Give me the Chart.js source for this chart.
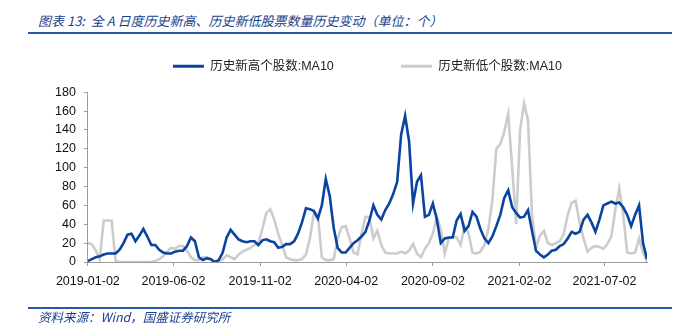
<!DOCTYPE html>
<html>
<head>
<meta charset="utf-8">
<script src="https://cdn.jsdelivr.net/npm/chart.js@4.4.1/dist/chart.umd.min.js"></script>
<style>
  body { margin: 0; background: #fff; }
  #wrap { position: relative; width: 676px; height: 325px; overflow: hidden; }
  #chartBox { position: absolute; left: 0; top: 0; width: 676px; height: 325px; }
  .caption { position: absolute; left: 38px; white-space: nowrap; font-style: italic;
             font-family: 'Noto Sans CJK SC', sans-serif; color: #1b3f8b; }
  #title { top: 12px; font-size: 13px; line-height: 18px; }
  #source { top: 309px; font-size: 12.5px; line-height: 16px; }
  .rule { position: absolute; left: 28px; width: 644px; height: 2px; background: #2a56a8; }
</style>
</head>
<body>
<div id="wrap">
  <div id="title" class="caption">图表 13:&nbsp; 全 A 日度历史新高、历史新低股票数量历史变动（单位：个）</div>
  <div class="rule" style="top:32px"></div>
  <div id="chartBox"><canvas id="myChart"></canvas></div>
  <div class="rule" style="top:307px"></div>
  <div id="source" class="caption">资料来源：Wind，国盛证券研究所</div>
</div>
<script>
// dữ liệu (mỗi tuần một điểm)
const dates = [
  '2019-01-02','2019-01-09','2019-01-16','2019-01-23','2019-01-30','2019-02-06','2019-02-13','2019-02-20','2019-02-27',
  '2019-03-06','2019-03-13','2019-03-20','2019-03-27','2019-04-03','2019-04-10','2019-04-17','2019-04-24',
  '2019-05-01','2019-05-08','2019-05-15','2019-05-22','2019-05-29','2019-06-05','2019-06-12','2019-06-19','2019-06-26',
  '2019-07-03','2019-07-10','2019-07-17','2019-07-24','2019-07-31','2019-08-07','2019-08-14','2019-08-21','2019-08-28',
  '2019-09-04','2019-09-11','2019-09-18','2019-09-25','2019-10-02','2019-10-09','2019-10-16','2019-10-23','2019-10-30',
  '2019-11-06','2019-11-13','2019-11-20','2019-11-27','2019-12-04','2019-12-11','2019-12-18','2019-12-25',
  '2020-01-01','2020-01-08','2020-01-15','2020-01-22','2020-01-29','2020-02-05','2020-02-12','2020-02-19','2020-02-26',
  '2020-03-04','2020-03-11','2020-03-18','2020-03-25','2020-04-01','2020-04-08','2020-04-15','2020-04-22','2020-04-29',
  '2020-05-06','2020-05-13','2020-05-20','2020-05-27','2020-06-03','2020-06-10','2020-06-17','2020-06-24',
  '2020-07-01','2020-07-08','2020-07-15','2020-07-22','2020-07-29','2020-08-05','2020-08-12','2020-08-19','2020-08-26',
  '2020-09-02','2020-09-09','2020-09-16','2020-09-23','2020-09-30','2020-10-07','2020-10-14','2020-10-21','2020-10-28',
  '2020-11-04','2020-11-11','2020-11-18','2020-11-25','2020-12-02','2020-12-09','2020-12-16','2020-12-23','2020-12-30',
  '2021-01-06','2021-01-13','2021-01-20','2021-01-27','2021-02-03','2021-02-10','2021-02-17','2021-02-24',
  '2021-03-03','2021-03-10','2021-03-17','2021-03-24','2021-03-31','2021-04-07','2021-04-14','2021-04-21','2021-04-28',
  '2021-05-05','2021-05-12','2021-05-19','2021-05-26','2021-06-02','2021-06-09','2021-06-16','2021-06-23','2021-06-30',
  '2021-07-07','2021-07-14','2021-07-21','2021-07-28','2021-08-04','2021-08-11','2021-08-18','2021-08-25',
  '2021-09-01','2021-09-08','2021-09-15'
];

const newHigh = [
  1, 3, 5, 6, 8, 9, 9, 9, 13,
  20, 29, 30, 22, 28, 35, 27, 18,
  18, 13, 10, 9, 9, 11, 12, 12, 17,
  26, 22, 5, 2, 4, 3, 0, 2, 10,
  26, 34, 29, 24, 22, 21, 22, 22, 18,
  23, 24, 22, 21, 15, 16, 19, 19,
  22, 30, 42, 57, 56, 54, 46, 60, 88,
  70, 36, 15, 10, 10, 15, 20, 23, 27,
  32, 44, 60, 50, 45, 55, 62, 72,
  85, 135, 155, 128, 62, 85, 92, 48, 50,
  62, 45, 20, 25, 26, 26, 44, 51, 33,
  38, 53, 48, 35, 25, 20, 27, 38, 50,
  68, 76, 58, 52, 47, 48, 55, 33,
  12, 8, 5, 8, 12, 13, 17, 19, 25,
  32, 30, 32, 45, 50, 42, 32, 45, 60,
  62, 64, 62, 63, 58, 50, 38, 50,
  60, 20, 3
];

const newLow = [
  20, 19, 12, 3, 44, 44, 44, 1, 0,
  0, 0, 0, 0, 0, 0, 0, 0,
  1, 3, 6, 11, 15, 14, 17, 17, 12,
  5, 2, 2, 5, 5, 3, 0, 0, 3,
  7, 5, 3, 8, 11, 13, 15, 18, 20,
  35, 52, 56, 45, 30, 18, 5, 3,
  2, 2, 3, 8, 25, 52, 50, 5, 2,
  2, 3, 25, 37, 38, 25, 10, 8, 30,
  48, 47, 25, 33, 18, 10, 9, 9,
  9, 11, 9, 12, 19, 9, 5, 14, 20,
  30, 48, 35, 9, 25, 27, 26, 18, 38,
  30, 10, 9, 11, 18, 35, 65, 120, 125,
  138, 157, 100, 40, 140, 168, 150, 50,
  15, 28, 33, 20, 18, 20, 22, 30, 50,
  63, 65, 42, 25, 11, 15, 17, 16, 14,
  19, 27, 55, 78, 50, 10, 9, 10,
  25, 10, 0
];

const seriesNames = ['历史新高个股数:MA10', '历史新低个股数:MA10'];
const seriesColors = ['#0a43a0', '#cccccc'];
const tickDates = ['2019-01-02', '2019-06-02', '2019-11-02', '2020-04-02', '2020-09-02', '2021-02-02', '2021-07-02'];

// đổi ngày sang số ngày kể từ điểm đầu
const dayOf = s => Math.round((Date.parse(s) - Date.parse(dates[0])) / 864e5);
const toPoints = vals => vals.map((v, i) => ({ x: dayOf(dates[i]), y: v }));

const tickFont = { family: "'Liberation Sans', Arial, sans-serif", size: 12.5 };
const axisGray = '#9a9a9a';

const ctx = document.getElementById('myChart').getContext('2d');

const myChart = new Chart(ctx, {
  type: 'line',
  data: {
    datasets: [
      { label: seriesNames[0], data: toPoints(newHigh), borderColor: seriesColors[0], borderWidth: 2.6 },
      { label: seriesNames[1], data: toPoints(newLow), borderColor: seriesColors[1], borderWidth: 2.6 }
    ]
  },
  options: {
    responsive: true,
    maintainAspectRatio: false,
    animation: false,
    elements: { point: { radius: 0 }, line: { tension: 0 } },
    layout: { padding: { top: 45, left: 47, right: 29, bottom: 28 } },
    plugins: {
      tooltip: { enabled: false },
      legend: {
        position: 'top',
        fullSize: false,
        labels: {
          boxWidth: 31,
          boxHeight: 3,
          padding: 15,
          color: '#222',
          font: { family: "'Liberation Sans', 'Noto Sans CJK SC', sans-serif", size: 12.5 },
          // chèn một mục trống ở giữa để giãn khoảng cách giữa hai chú thích
          generateLabels: chart => {
            const items = chart.data.datasets.map((ds, i) => ({
              text: ds.label, fillStyle: ds.borderColor, strokeStyle: ds.borderColor,
              lineWidth: 0, hidden: false, datasetIndex: i, fontColor: '#222'
            }));
            items.splice(1, 0, { text: '', fillStyle: 'rgba(0,0,0,0)', strokeStyle: 'rgba(0,0,0,0)', lineWidth: 0, hidden: false });
            return items;
          }
        }
      }
    },
    scales: {
      x: {
        type: 'linear',
        min: 0,
        max: dayOf(dates[dates.length - 1]),
        afterBuildTicks: axis => { axis.ticks = tickDates.map(d => ({ value: dayOf(d) })); },
        grid: { drawOnChartArea: false, tickLength: 4, color: axisGray },
        border: { color: axisGray },
        ticks: {
          autoSkip: false, maxRotation: 0, padding: 8, color: '#111', font: tickFont,
          callback: v => tickDates.find(d => dayOf(d) === v) || ''
        }
      },
      // trục ẩn, chỉ để chừa khoảng trống giữa chú thích và vùng vẽ
      gap: {
        type: 'linear',
        position: 'top',
        grid: { display: false },
        border: { display: false },
        ticks: { display: false },
        afterFit: s => { s.height = 9.7; }
      },
      y: {
        min: 0,
        max: 180,
        grid: { drawOnChartArea: false, tickLength: 4, color: axisGray },
        border: { color: axisGray },
        ticks: { stepSize: 20, padding: 8, color: '#111', font: tickFont }
      }
    }
  }
});
</script>
</body>
</html>
